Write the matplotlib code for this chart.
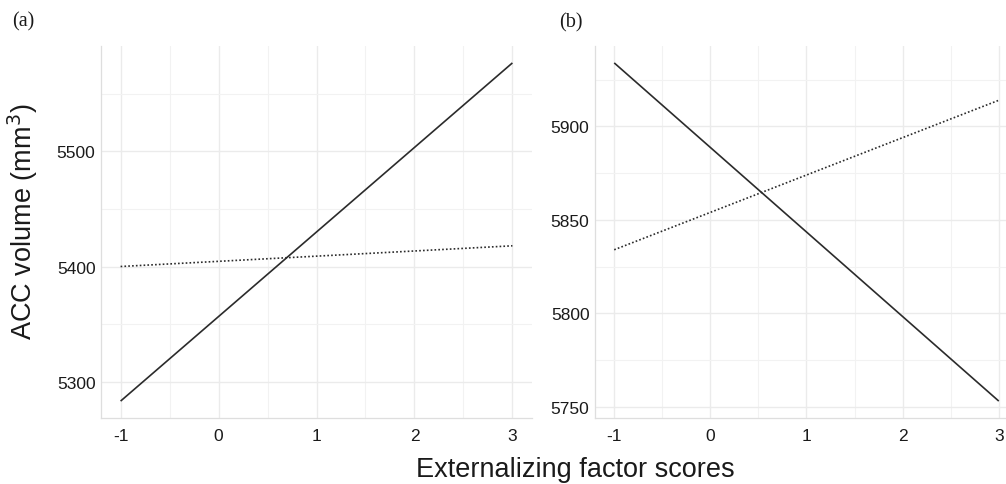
import matplotlib
matplotlib.use("Agg")
import matplotlib.pyplot as plt
from matplotlib.ticker import MultipleLocator

plt.rcParams['font.family'] = ['Liberation Sans', 'DejaVu Sans']

x_vals = [-1, 3]
a_solid = [5283, 5577]
a_dotted = [5400, 5418]
b_solid = [5934, 5753]
b_dotted = [5834, 5914]

x_ticks = [-1, 0, 1, 2, 3]
a_yticks = [5300, 5400, 5500]
b_yticks = [5750, 5800, 5850, 5900]

W, H = 1006, 485
fig = plt.figure(figsize=(W / 100, H / 100), dpi=100)

line_col = '#2b2b2b'
grid_col = '#ebebeb'

def style(ax, yticks, ymajor):
    ax.set_facecolor('white')
    for s in ['top', 'right']:
        ax.spines[s].set_visible(False)
    for s in ['left', 'bottom']:
        ax.spines[s].set_color('#dedede')
        ax.spines[s].set_linewidth(0.9)
    ax.set_xticks(x_ticks)
    ax.set_xticklabels([str(t) for t in x_ticks])
    ax.set_yticks(yticks)
    ax.xaxis.set_minor_locator(MultipleLocator(0.5))
    ax.yaxis.set_minor_locator(MultipleLocator(ymajor / 2))
    ax.grid(which='major', color=grid_col, lw=1.0)
    ax.grid(which='minor', color='#f2f2f2', lw=0.8)
    ax.set_axisbelow(True)
    ax.tick_params(which='both', length=0, labelsize=12.5, colors='#1a1a1a')
    ax.tick_params(axis='x', pad=7)
    ax.tick_params(axis='y', pad=4)
    ax.set_xlim(-1.2, 3.2)

def exp_lim(vals):
    lo, hi = min(vals), max(vals)
    d = (hi - lo) * 0.05
    return lo - d, hi + d

# panel a
axa = fig.add_axes([101 / W, 1 - 419 / H, (532 - 101) / W, (419 - 47) / H])
style(axa, a_yticks, 100)
axa.plot(x_vals, a_solid, color=line_col, lw=1.2, solid_capstyle='butt')
axa.plot(x_vals, a_dotted, color=line_col, lw=1.2, linestyle=(0, (1, 1.3)))
axa.set_ylim(*exp_lim(a_solid + a_dotted))

# panel b (extends slightly beyond the right edge, as in the reference)
axb = fig.add_axes([595 / W, 1 - 419 / H, (1018 - 595) / W, (419 - 47) / H])
style(axb, b_yticks, 50)
axb.plot(x_vals, b_solid, color=line_col, lw=1.2, solid_capstyle='butt')
axb.plot(x_vals, b_dotted, color=line_col, lw=1.2, linestyle=(0, (1, 1.3)))
axb.set_ylim(*exp_lim(b_solid + b_dotted))

fig.text(12 / W, 1 - 22 / H, '(a)', family=['Liberation Serif'], fontsize=14.5,
         va='center', ha='left', color='#1a1a1a')
fig.text(559 / W, 1 - 23 / H, '(b)', family=['Liberation Serif'], fontsize=14.5,
         va='center', ha='left', color='#1a1a1a')

fig.text(23 / W, 1 - 222 / H, 'ACC volume (mm$^3$)', rotation=90, fontsize=19.5,
         va='center', ha='center', color='#1a1a1a')
fig.text(575 / W, 1 - 470 / H, 'Externalizing factor scores', fontsize=19.5,
         va='center', ha='center', color='#1a1a1a')

fig.savefig('out.png', dpi=100)
